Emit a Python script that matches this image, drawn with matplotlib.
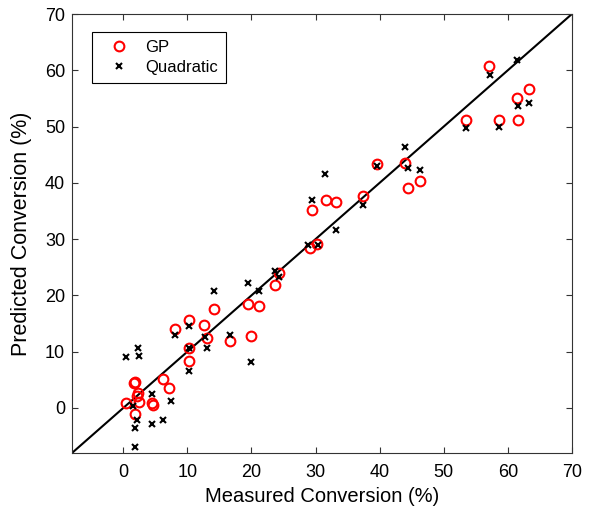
import numpy as np
import matplotlib.pyplot as plt

plt.rcParams['font.family'] = ['Liberation Sans', 'DejaVu Sans']

# GP predictions (measured, predicted)
gp_x = [8.1, 10.2, 12.6, 13.1, 10.2, 10.3, 1.6, 1.9, 6.2, 7.2, 2.3, 2.2, 2.4, 0.4,
        4.5, 4.7, 1.9, 24.3, 23.7, 19.4, 21.1, 14.1, 16.6, 19.9, 39.6, 44.0,
        46.3, 44.5, 37.4, 29.4, 31.7, 33.2, 29.1, 30.3, 57.1, 63.3, 61.4, 53.5,
        58.7, 61.6]
gp_y = [14.0, 15.7, 14.7, 12.4, 10.6, 8.4, 4.4, 4.6, 5.1, 3.5, 2.7, 2.1, 1.0, 0.8,
        0.9, 0.6, -1.1, 24.0, 21.9, 18.4, 18.1, 17.5, 11.9, 12.7, 43.3, 43.6,
        40.3, 39.0, 37.6, 35.1, 36.9, 36.6, 28.5, 29.2, 60.7, 56.6, 55.1, 51.1,
        51.2, 51.2]

# Quadratic model predictions
qd_x = [8.0, 10.2, 12.7, 10.2, 13.0, 10.2, 0.4, 2.3, 2.4, 4.5, 7.4, 1.5, 2.1, 1.9,
        4.5, 6.2, 1.9, 23.7, 24.3, 19.4, 21.1, 14.1, 16.6, 19.9, 31.5, 39.6,
        44.4, 46.3, 37.4, 29.4, 33.2, 28.9, 30.4, 57.2, 61.4, 61.6, 63.3, 53.5,
        58.7, 44.0]
qd_y = [13.0, 14.6, 12.6, 10.6, 10.6, 6.6, 9.0, 10.6, 9.3, 2.5, 1.2, 0.3, -2.2, -3.5,
        -2.8, -2.1, -7.0, 24.3, 23.2, 22.2, 20.8, 20.7, 12.9, 8.2, 41.6, 43.0,
        42.7, 42.2, 36.0, 36.9, 31.6, 29.0, 29.0, 59.2, 61.9, 53.6, 54.2, 49.8,
        50.0, 46.4]

lims = [-8, 70]
ticks = [0, 10, 20, 30, 40, 50, 60, 70]

fig = plt.figure(figsize=(6.02, 5.13), dpi=100)
ax = fig.add_axes([0.1196, 0.117, 0.8304, 0.8557])

ax.plot(lims, lims, '-', color='black', lw=1.5, zorder=1)
ax.plot(gp_x, gp_y, 'o', ls='none', mfc='none', mec='red', mew=1.5, ms=7,
        label='GP', zorder=2)
ax.plot(qd_x, qd_y, 'x', ls='none', color='black', mew=1.5, ms=4.5,
        label='Quadratic', zorder=3)

ax.set_xlim(lims)
ax.set_ylim(lims)
ax.set_xticks(ticks)
ax.set_yticks(ticks)
for s in ax.spines.values():
    s.set_color('0.2')
ax.tick_params(direction='in', top=True, right=True, length=4, labelsize=13,
               color='0.2')
ax.tick_params(axis='x', pad=8)
ax.tick_params(axis='y', pad=5)
ax.set_xlabel('Measured Conversion (%)', fontsize=14.5, labelpad=4)
ax.set_ylabel('Predicted Conversion (%)', fontsize=15.5, labelpad=9)

leg = ax.legend(loc='upper left', bbox_to_anchor=(0.04, 0.96), fontsize=12,
                fancybox=False, edgecolor='black', framealpha=1,
                handlelength=2.2, handletextpad=0.5, borderpad=0.5,
                labelspacing=0.3, numpoints=1, borderaxespad=0)
leg.get_frame().set_linewidth(0.8)

plt.savefig('out.png', dpi=100)
